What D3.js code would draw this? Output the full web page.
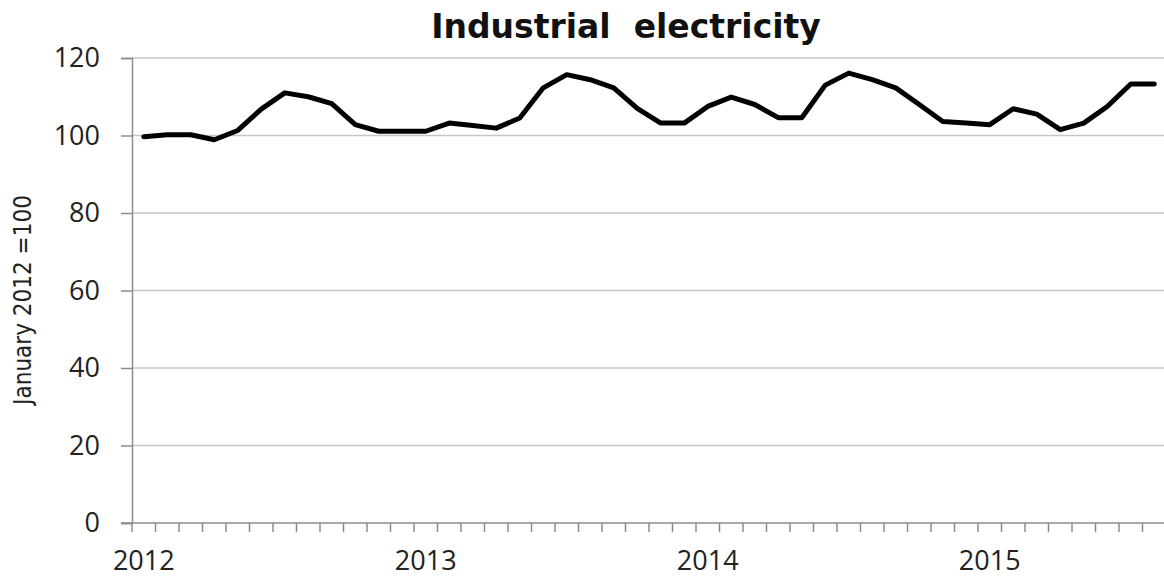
<!DOCTYPE html>
<html>
<head>
<meta charset="utf-8">
<script src="https://cdn.jsdelivr.net/npm/d3@7"></script>
<style>
  body { margin: 0; background: #fff; }
  svg { display: block; }
</style>
</head>
<body>
<div id="chart"></div>
<script>
// monthly index, January 2012 = 100 (Jan 2012 .. Aug 2015)
const months = ["2012-01","2012-02","2012-03","2012-04","2012-05","2012-06","2012-07","2012-08","2012-09","2012-10","2012-11","2012-12",
                "2013-01","2013-02","2013-03","2013-04","2013-05","2013-06","2013-07","2013-08","2013-09","2013-10","2013-11","2013-12",
                "2014-01","2014-02","2014-03","2014-04","2014-05","2014-06","2014-07","2014-08","2014-09","2014-10","2014-11","2014-12",
                "2015-01","2015-02","2015-03","2015-04","2015-05","2015-06","2015-07","2015-08"];
const values = [99.7, 100.2, 100.2, 98.9, 101.3, 106.8, 111.0, 110.0, 108.2, 102.8, 101.1, 101.1,
                101.1, 103.2, 102.6, 101.9, 104.5, 112.3, 115.7, 114.4, 112.3, 107.0, 103.2, 103.2,
                107.5, 109.9, 108.0, 104.6, 104.6, 113.0, 116.1, 114.4, 112.3, 108.0, 103.6, 103.2,
                102.8, 106.9, 105.5, 101.5, 103.2, 107.5, 113.3, 113.3];
const yTicks = [0, 20, 40, 60, 80, 100, 120];
const yearLabels = ["2012", "2013", "2014", "2015"];

const W = 1164, H = 577;
const margin = {top: 58, right: -2, bottom: 54, left: 132};
const width = W - margin.left - margin.right,
      height = H - margin.top - margin.bottom;

const svg = d3.select("#chart").append("svg")
    .attr("width", W)
    .attr("height", H);

const g = svg.append("g")
    .attr("transform", "translate(" + margin.left + "," + margin.top + ")");

const x = d3.scaleBand()
    .domain(months)
    .range([0, width])
    .padding(0);

const y = d3.scaleLinear()
    .domain([0, 120])
    .range([height, 0]);

// gridlines
g.append("g")
    .selectAll("line")
    .data(yTicks.filter(d => d > 0))
    .enter()
    .append("line")
    .attr("x1", 0)
    .attr("x2", width)
    .attr("y1", d => y(d))
    .attr("y2", d => y(d))
    .attr("stroke", "#c6c6c6")
    .attr("stroke-width", 1.5);

// y axis
const yAxis = g.append("g")
    .call(d3.axisLeft(y).tickValues(yTicks).tickSize(11).tickPadding(21));
yAxis.select(".domain").attr("stroke", "#8c8c8c").attr("stroke-width", 1.5);
yAxis.selectAll(".tick line").attr("stroke", "#8c8c8c").attr("stroke-width", 1.5);
yAxis.selectAll("text")
    .attr("font-family", "'Open Sans', sans-serif")
    .attr("font-size", 27)
    .attr("fill", "#222");

// x axis: tick marks on category boundaries
const xAxis = g.append("g")
    .attr("transform", "translate(0," + height + ")");
xAxis.append("line")
    .attr("x1", -11)
    .attr("x2", width)
    .attr("stroke", "#8c8c8c")
    .attr("stroke-width", 1.5);
xAxis.selectAll(".tk")
    .data(months)
    .enter()
    .append("line")
    .attr("class", "tk")
    .attr("x1", d => x(d))
    .attr("x2", d => x(d))
    .attr("y1", 0)
    .attr("y2", 9)
    .attr("stroke", "#8c8c8c")
    .attr("stroke-width", 1.5);
xAxis.selectAll(".yl")
    .data(yearLabels)
    .enter()
    .append("text")
    .attr("class", "yl")
    .attr("x", d => x(d + "-01") + x.bandwidth() / 2)
    .attr("y", 47)
    .attr("text-anchor", "middle")
    .attr("font-family", "'Open Sans', sans-serif")
    .attr("font-size", 27)
    .attr("fill", "#222")
    .text(d => d);

// line
const line = d3.line()
    .x((d, i) => x(months[i]) + x.bandwidth() / 2)
    .y(d => y(d));

g.append("path")
    .datum(values)
    .attr("fill", "none")
    .attr("stroke", "#000")
    .attr("stroke-width", 5)
    .attr("stroke-linejoin", "round")
    .attr("stroke-linecap", "round")
    .attr("d", line);

// title
svg.append("text")
    .attr("x", 626)
    .attr("y", 38)
    .attr("text-anchor", "middle")
    .attr("font-family", "'DejaVu Sans', sans-serif")
    .attr("font-weight", "bold")
    .attr("font-size", 33)
    .attr("fill", "#111")
    .style("white-space", "pre")
    .text("Industrial  electricity");

// y axis title
svg.append("text")
    .attr("transform", "translate(31,300) rotate(-90)")
    .attr("text-anchor", "middle")
    .attr("font-family", "'Liberation Sans Narrow', 'DejaVu Sans Condensed', sans-serif")
    .attr("font-size", 24)
    .attr("fill", "#222")
    .text("January 2012 =100");
</script>
</body>
</html>
